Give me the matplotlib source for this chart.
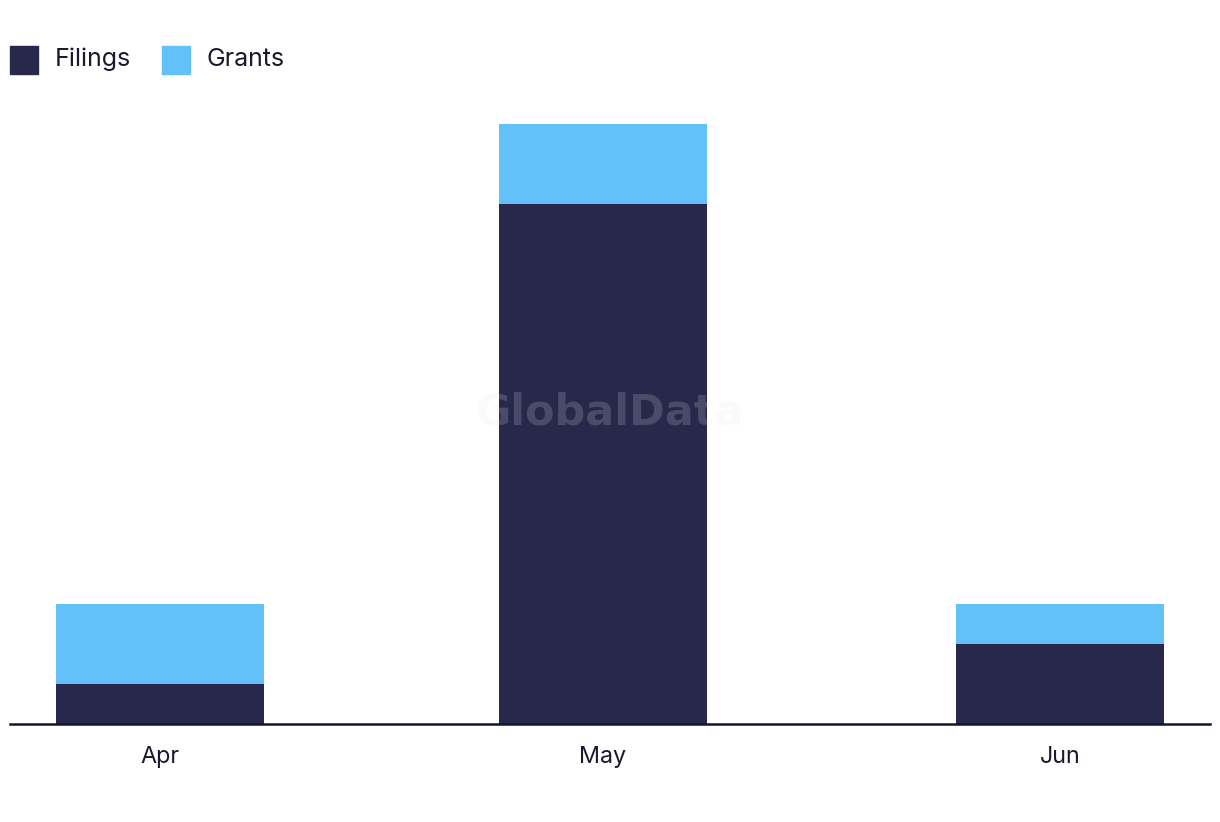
import matplotlib
matplotlib.use("Agg")
import matplotlib.pyplot as plt
import matplotlib.dates as mdates
import pandas as pd
from matplotlib.patches import Rectangle

months = ["2024-04-01", "2024-05-01", "2024-06-01"]
month_labels = ["Apr", "May", "Jun"]
series_names = ["Filings", "Grants"]
filings = [1, 13, 2]
grants = [2, 2, 1]

c_fil = "#28284c"
c_gr = "#62c1f9"
txt = "#1a1a2e"

dates = pd.to_datetime(months)
x = mdates.date2num(dates)

fig = plt.figure(figsize=(12.2, 8.22), dpi=100)
W, H = 1220, 822
ax = fig.add_axes([10 / W, (H - 723.5) / H, 1200 / W, (723.5 - 104) / H])

width = 14.1
ax.bar(x, filings, width=width, color=c_fil, zorder=2)
ax.bar(x, grants, width=width, bottom=filings, color=c_gr, zorder=2)

ax.set_xlim(x[0] - 10.17, x[-1] + 10.17)
ax.set_ylim(0, (723.5 - 104) / 40.0)
ax.set_xticks(x)
ax.set_xticklabels(month_labels, fontsize=16.8, color=txt, family="Inter")
ax.tick_params(axis="x", length=0, pad=16.5)
ax.set_yticks([])
for s in ["top", "right", "left"]:
    ax.spines[s].set_visible(False)
ax.spines["bottom"].set_color("#14142a")
ax.spines["bottom"].set_linewidth(1.8)
ax.spines["bottom"].set_zorder(3)

fig.text(610 / W, 1 - 412 / H, "GlobalData", ha="center", va="center",
         fontsize=31, fontweight="bold", color="#e8e8ee", alpha=0.18,
         family="DejaVu Sans", zorder=10)

# legend drawn in figure pixel space
for name, col, hx, tx in zip(series_names, [c_fil, c_gr], [10, 162], [55, 207]):
    fig.patches.append(Rectangle((hx / W, 1 - 74 / H), 28 / W, 28 / H,
                                 transform=fig.transFigure, color=col))
    fig.text(tx / W, 1 - 59.5 / H, name, ha="left", va="center", fontsize=18,
             color=txt, family="Inter")

fig.savefig("out.png", dpi=100)
